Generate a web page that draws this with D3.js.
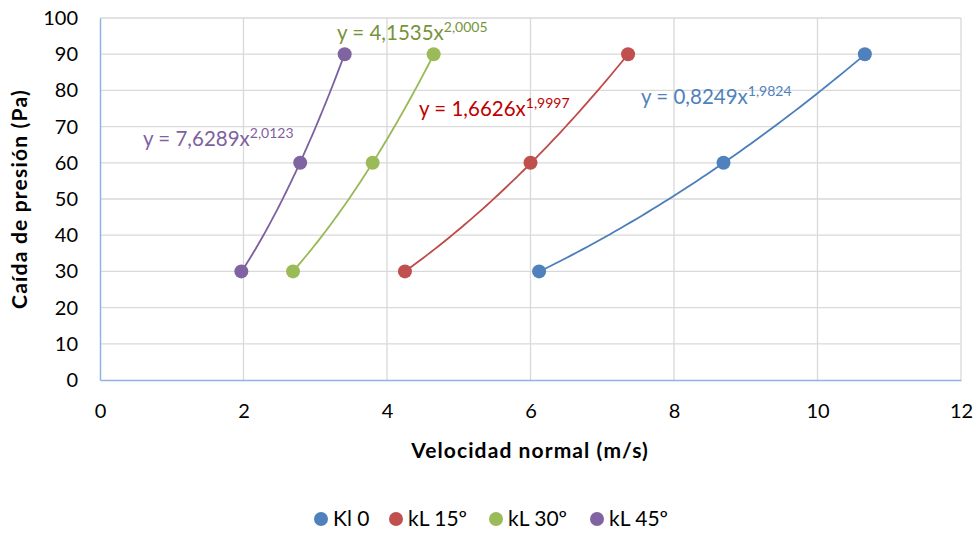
<!DOCTYPE html>
<html>
<head>
<meta charset="utf-8">
<script src="https://cdn.jsdelivr.net/npm/d3@7"></script>
<style>
  body { margin: 0; background: #fff; }
  svg { font-family: Lato, "Open Sans", sans-serif; }
</style>
</head>
<body>
<svg id="chart" width="978" height="534"></svg>
<script>
// Measured pressure drop vs. normal velocity for each inclination
const seriesNames = ["Kl 0", "kL 15º", "kL 30º", "kL 45º"];
const pressure = [30, 60, 90];
const velKl0  = [6.12, 8.69, 10.66];
const velKl15 = [4.25, 6.0, 7.36];
const velKl30 = [2.69, 3.8, 4.65];
const velKl45 = [1.97, 2.79, 3.41];
// Power trendline coefficients y = a·x^b
const trendA = [0.8249, 1.6626, 4.1535, 7.6289];
const trendB = [1.9824, 1.9997, 2.0005, 2.0123];
const trendLabels = ["0,8249", "1,6626", "4,1535", "7,6289"];
const trendExpLabels = ["1,9824", "1,9997", "2,0005", "2,0123"];
const xTicks = [0, 2, 4, 6, 8, 10, 12];
const yTicks = [0, 10, 20, 30, 40, 50, 60, 70, 80, 90, 100];

const markerColors = ["#4F81BD", "#C0504D", "#9BBB59", "#8064A2"];
const lineColors = ["#4A7EBB", "#BE4B48", "#98B954", "#7D60A0"];
const labelColors = ["#4F81BD", "#C00000", "#77933C", "#7F5FA0"];
const labelPos = [[641, 104], [419, 116], [337, 40], [143, 146]];

const velocities = [velKl0, velKl15, velKl30, velKl45];

const svg = d3.select("#chart");
const plotLeft = 100, plotRight = 961, plotTop = 18, plotBottom = 380;

const x = d3.scaleLinear().domain([0, 12]).range([plotLeft, plotRight]);
const y = d3.scaleLinear().domain([0, 100]).range([plotBottom, plotTop]);

// gridlines
const grid = svg.append("g");
grid.selectAll("line.h").data(yTicks.filter(d => d > 0)).join("line")
  .attr("x1", plotLeft).attr("x2", plotRight)
  .attr("y1", d => y(d)).attr("y2", d => y(d))
  .attr("stroke", "#D9D9D9").attr("stroke-width", 1.3);
grid.selectAll("line.v").data(xTicks.filter(d => d > 0)).join("line")
  .attr("x1", d => x(d)).attr("x2", d => x(d))
  .attr("y1", plotTop).attr("y2", plotBottom)
  .attr("stroke", "#D9D9D9").attr("stroke-width", 1.3);

// axes
const xAxis = svg.append("g").attr("transform", `translate(0,${plotBottom})`)
  .call(d3.axisBottom(x).tickValues(xTicks).tickSize(0).tickPadding(24));
const yAxis = svg.append("g").attr("transform", `translate(${plotLeft},0)`)
  .call(d3.axisLeft(y).tickValues(yTicks).tickSize(0).tickPadding(22));
[xAxis, yAxis].forEach(a => {
  a.select(".domain").attr("stroke", "#8EB4E3").attr("stroke-width", 1.5);
  a.selectAll("text").attr("font-size", 20).attr("fill", "#000").attr("font-family", "Lato, sans-serif");
});

// trendlines
velocities.forEach((vs, i) => {
  const lo = d3.min(vs), hi = d3.max(vs);
  const pts = d3.range(0, 61).map(k => {
    const xv = lo + (hi - lo) * k / 60;
    return [xv, trendA[i] * Math.pow(xv, trendB[i])];
  });
  svg.append("path")
    .attr("d", d3.line().x(d => x(d[0])).y(d => y(d[1]))(pts))
    .attr("fill", "none").attr("stroke", lineColors[i]).attr("stroke-width", 1.8);
});

// markers
velocities.forEach((vs, i) => {
  svg.append("g").selectAll("circle").data(vs.map((v, k) => [v, pressure[k]])).join("circle")
    .attr("cx", d => x(d[0])).attr("cy", d => y(d[1])).attr("r", 7)
    .attr("fill", markerColors[i]);
});

// trendline equations
trendLabels.forEach((t, i) => {
  const txt = svg.append("text")
    .attr("x", labelPos[i][0]).attr("y", labelPos[i][1])
    .attr("fill", labelColors[i]).attr("font-size", 20.5);
  txt.append("tspan").text(`y = ${t}x`);
  txt.append("tspan").attr("font-size", 14).attr("dy", -8).text(trendExpLabels[i]);
});

// axis titles
svg.append("text").attr("x", 530).attr("y", 458)
  .attr("text-anchor", "middle").attr("font-weight", "bold").attr("font-size", 21)
  .attr("letter-spacing", 1.1)
  .text("Velocidad normal (m/s)");
svg.append("text").attr("transform", `translate(27,199) rotate(-90)`)
  .attr("text-anchor", "middle").attr("font-weight", "bold").attr("font-size", 21)
  .attr("letter-spacing", 1.2)
  .text("Caída de presión (Pa)");

// legend
const legendX = [321, 396, 496, 597];
const legend = svg.append("g");
seriesNames.forEach((n, i) => {
  legend.append("circle").attr("cx", legendX[i]).attr("cy", 519).attr("r", 7).attr("fill", markerColors[i]);
  legend.append("text").attr("x", legendX[i] + 12).attr("y", 525.5)
    .attr("font-size", 21).text(n);
});
</script>
</body>
</html>
